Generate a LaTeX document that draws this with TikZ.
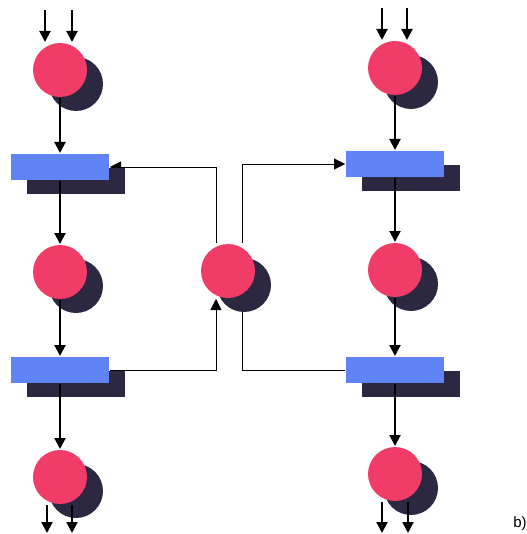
\documentclass[tikz,border=0pt]{standalone}
\usepackage{fontspec}
\setmainfont{Liberation Sans}
\usepackage{tikz}
\usetikzlibrary{positioning, arrows.meta, shadows}

\definecolor{cellpink}{RGB}{242,60,104}
\definecolor{gateblue}{RGB}{96,132,246}
\definecolor{darkshade}{RGB}{44,40,66}

\pgfdeclarelayer{background}
\pgfsetlayers{background,main}

\begin{document}
\begin{tikzpicture}[x=1pt, y=-1pt, line width=2pt,
        >={Triangle[length=11pt,width=11pt]},
        castshadow/.style={drop shadow={shadow xshift=16pt, shadow yshift=-14pt,
            fill=darkshade, opacity=1}},
        cell/.style={circle, castshadow, fill=cellpink, minimum size=54pt, inner sep=0pt},
        gate/.style={rectangle, castshadow, fill=gateblue, minimum width=98pt,
            minimum height=26pt, inner sep=0pt}]
    \useasboundingbox (0,0) rectangle (526,534);

    % left column
    \node[cell] (c1) at (60,70) {};
    \node[gate] (b1) at (60,167) {};
    \node[cell] (c2) at (60,272) {};
    \node[gate] (b2) at (60,370) {};
    \node[cell] (c3) at (60,477) {};

    % right column
    \node[cell] (d1) at (395,68) {};
    \node[gate] (e1) at (395,164) {};
    \node[cell] (d2) at (395,270) {};
    \node[gate] (e2) at (395,370) {};
    \node[cell] (d3) at (395,474) {};

    % middle cell
    \node[cell] (m) at (228,271) {};

    \node[font=\fontsize{15}{18}\selectfont] (tag) at (520,524) {b)};

    % down the columns
    \draw[->] (c1) -- (b1);
    \draw[->] (b1) -- (c2);
    \draw[->] (c2) -- (b2);
    \draw[->] (b2) -- (c3);
    \draw[->] (d1) -- (e1);
    \draw[->] (e1) -- (d2);
    \draw[->] (d2) -- (e2);
    \draw[->] (e2) -- (d3);

    % inputs and outputs
    \foreach \x [count=\i] in {45,72} {
        \coordinate (inL\i) at (\x,10);
        \draw[->] (inL\i) -- (inL\i |- c1.north);
    }
    \foreach \x [count=\i] in {382,407} {
        \coordinate (inR\i) at (\x,8);
        \draw[->] (inR\i) -- (inR\i |- d1.north);
    }
    \foreach \x [count=\i] in {47,72} {
        \coordinate (outL\i) at (\x,533);
        \draw[->] (outL\i |- c3.south) -- (outL\i);
    }
    \foreach \x [count=\i] in {382,408} {
        \coordinate (outR\i) at (\x,533);
        \draw[->] (outR\i |- d3.south) -- (outR\i);
    }

    % feedback through the middle cell
    \begin{pgfonlayer}{background}
        \draw[->] (b2.east) -| ([xshift=-12pt]m.south);
        \draw[->] ([xshift=-12pt]m.north) |- (b1.east);
        \draw[->] ([xshift=14pt]m.north) |- (e1.west);
        \draw (e2.west) -| ([xshift=14pt]m.south);
    \end{pgfonlayer}
\end{tikzpicture}
\end{document}
